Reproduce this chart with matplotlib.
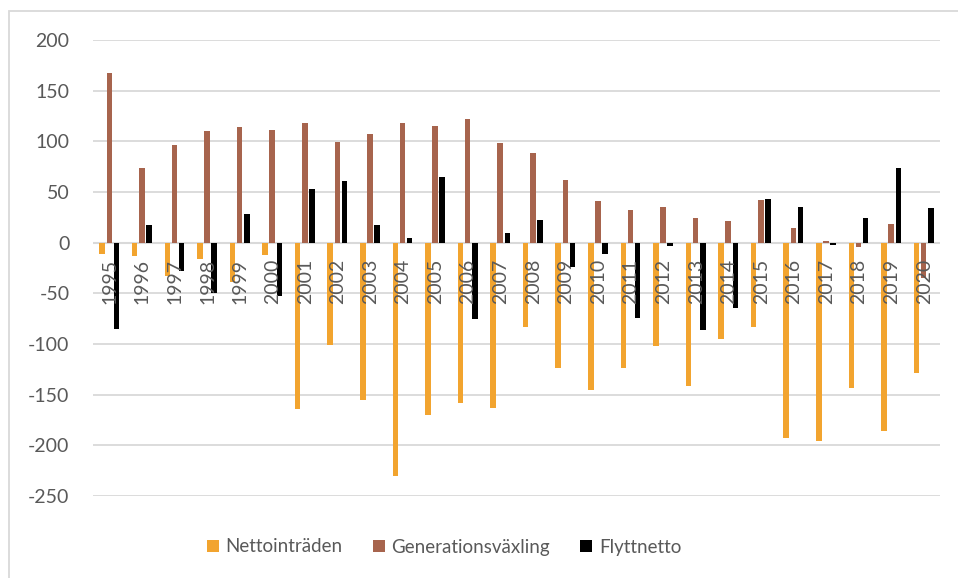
import matplotlib
matplotlib.use("Agg")
import matplotlib.pyplot as plt
from matplotlib.patches import Rectangle, Patch
import numpy as np

years = [str(y) for y in range(1995, 2021)]
nettointraden = [-11, -13, -33, -16, -39, -12, -164, -101, -155, -230, -170, -158, -163,
                 -83, -124, -145, -124, -102, -141, -95, -83, -193, -196, -143, -186, -129]
generationsvaxling = [167, 74, 96, 110, 114, 111, 118, 99, 107, 118, 115, 122, 98,
                      88, 62, 41, 32, 35, 24, 21, 42, 14, 2, -4, 18, -35]
flyttnetto = [-85, 17, -28, -50, 28, -53, 53, 61, 17, 5, 65, -75, 10,
              22, -24, -11, -74, -3, -86, -64, 43, 35, -2, 24, 74, 34]
series_names = ["Nettointräden", "Generationsväxling", "Flyttnetto"]
yticks = [-250, -200, -150, -100, -50, 0, 50, 100, 150, 200]

colors = ["#F2A42F", "#A7644D", "#000000"]
plt.rcParams['font.family'] = ['Lato', 'DejaVu Sans']
W, H = 958, 578
fig = plt.figure(figsize=(W / 100, H / 100), dpi=100)
ax = fig.add_axes([93 / W, 1 - 496 / H, 847 / W, 456 / H])

x = np.arange(len(years))
bw = 0.17
off = 0.22
for i, (vals, c) in enumerate(zip([nettointraden, generationsvaxling, flyttnetto], colors)):
    ax.bar(x + (i - 1) * off, vals, width=bw, color=c, zorder=3)

ax.set_xlim(-0.5, len(years) - 0.5)
ax.set_ylim(-250, 200)
ax.set_yticks(yticks)
ax.set_yticklabels([str(v) for v in yticks])
ax.grid(axis='y', color='#d9d9d9', linewidth=1.3, zorder=0)
ax.axhline(0, color='#d9d9d9', linewidth=1.5, zorder=2)
for s in ax.spines.values():
    s.set_visible(False)
ax.tick_params(axis='y', length=0, pad=17, labelsize=14, labelcolor='#595959')
ax.set_xticks([])

for xi, yr in zip(x, years):
    ax.annotate(yr, (xi, 0), xytext=(0.5, -16), textcoords='offset pixels',
                rotation=90, ha='center', va='top', fontsize=14, color='#595959',
                zorder=4, annotation_clip=False)

fig.add_artist(Rectangle((9 / W, -0.1), 1.2, 1 - 11 / H + 0.1, transform=fig.transFigure,
                         fill=False, edgecolor='#d9d9d9', linewidth=1.3))

handles = [Patch(facecolor=c, edgecolor='none') for c in colors]
fig.legend(handles, series_names, loc='center', bbox_to_anchor=(444 / W, 1 - 547 / H),
           ncol=3, frameon=False, fontsize=13.5, labelcolor='#595959',
           handlelength=0.65, handleheight=0.65, handletextpad=0.35, columnspacing=1.6)

fig.savefig("out.png", dpi=100)
